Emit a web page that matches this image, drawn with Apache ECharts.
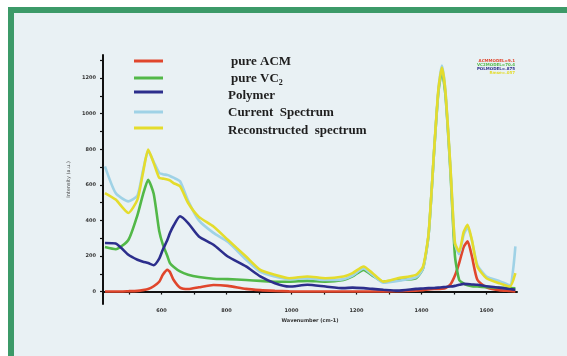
<!DOCTYPE html>
<html><head><meta charset="utf-8">
<script src="https://cdn.jsdelivr.net/npm/echarts@6/dist/echarts.min.js"></script>
<style>html,body{margin:0;padding:0;background:#fff}#c{width:567px;height:356px}</style>
</head><body><div id="c"></div>
<script>
const wavenumbers = [426,459,498,526,543,559,576,593,604,618,626,637,657,682,715,760,804,860,904,949,993,1049,1105,1160,1188,1222,1249,1283,1327,1383,1405,1422,1439,1452,1463,1474,1489,1503,1516,1530,1542,1555,1572,1600,1639,1672,1689];
const pureACM = [0,0,2,4,8,14,30,55,94,122,110,66,22,14,24,37,32,15,8,4,1,0,0,0,0,0,0,0,2,5,8,12,14,15,16,20,40,90,160,250,282,200,66,24,8,3,0];
const pureVC2 = [250,238,290,430,545,628,550,340,265,200,160,140,113,95,82,72,70,65,60,55,55,60,55,65,85,122,90,55,65,75,130,320,790,1120,1240,1100,680,200,66,45,35,30,28,25,22,20,18];
const polymer = [273,270,207,179,168,160,148,185,235,290,329,370,423,385,310,263,197,141,85,47,28,38,28,19,22,19,15,10,5,15,17,19,20,22,24,26,28,32,38,43,42,40,38,30,22,14,10];
const currentSpectrum = [704,554,507,540,680,790,730,667,660,655,650,640,620,510,400,330,280,180,110,85,70,75,65,70,90,130,95,50,60,80,130,320,790,1130,1270,1120,700,270,210,320,360,290,150,85,60,35,254];
const reconstructed = [554,517,442,517,667,798,723,639,635,630,625,610,592,498,420,366,291,197,122,94,75,85,75,85,104,141,104,56,75,94,141,329,798,1136,1259,1118,704,273,226,335,376,291,141,75,47,28,104];
const xTickLabels = [600,800,1000,1200,1400,1600];
const xTicks = [500,600,700,800,900,1000,1100,1200,1300,1400,1500,1600];
const yTickLabels = [0,200,400,600,800,1000,1200];
const yTicks = [0,100,200,300,400,500,600,700,800,900,1000,1100,1200,1300];
const seriesNames = ['pure ACM','pure VC2','Polymer','Current  Spectrum','Reconstructed  spectrum'];
const modelTexts = ['ACMMODEL=9.1','VC2MODEL=70.4','POLMODEL=.875','Rmse=.057'];

const colors = ['#e0462c','#52b848','#2c2e8c','#9fd2e6','#e4dc2c'];
const values = [pureACM, pureVC2, polymer, currentSpectrum, reconstructed];
const order = [1,0,2,3,4];
const chart = echarts.init(document.getElementById('c'), null, {renderer:'canvas'});
const series = order.map(i => ({
  name: seriesNames[i], type:'line', showSymbol:false, smooth:0.2,
  data: wavenumbers.map((w,k)=>[w, values[i][k]]),
  lineStyle:{color:colors[i], width:2.6}, itemStyle:{color:colors[i]}, z: 2+i
}));
const legendY = [61, 78, 92, 112, 128];
const textY = [62, 79, 96, 113, 131];
const graphics = [
  {type:'rect', shape:{x:11,y:10,width:570,height:360}, style:{fill:'#e9f1f4', stroke:'#3c9a68', lineWidth:6}, z:-10},
];
seriesNames.forEach((n,i)=>{
  graphics.push({type:'line', shape:{x1:134,y1:legendY[i],x2:163,y2:legendY[i]}, style:{stroke:colors[i], lineWidth:3}, z:10});
  graphics.push({type:'text', x: i<2 ? 231 : 228, y:textY[i], style:{
    text: i===1 ? 'pure VC{s|2}' : n,
    font:'bold 13px "Liberation Serif", serif', fill:'#1e1e1e', verticalAlign:'middle',
    rich:{s:{font:'bold 8px "Liberation Serif", serif', fill:'#1e1e1e', padding:[7,0,0,0]}}
  }, z:10});
});
const mColors = [colors[0], colors[1], colors[2], '#e4dc2c'];
modelTexts.forEach((t,i)=>{
  graphics.push({type:'text', x:515, y:61+i*4, style:{text:t, font:'bold 4px "DejaVu Sans", sans-serif', fill:mColors[i], align:'right', verticalAlign:'middle'}, z:10});
});
const plain = v => String(v);
chart.setOption({
  animation:false,
  backgroundColor:'#ffffff',
  graphic: graphics,
  grid:{left:103, right:50, top:55, bottom:52, containLabel:false},
  xAxis:{type:'value', min:420, max:1694,
    name:'Wavenumber (cm-1)', nameLocation:'middle', nameGap:13,
    nameTextStyle:{fontSize:5, fontWeight:'bold', color:'#333', fontFamily:'DejaVu Sans'},
    axisLine:{lineStyle:{color:'#111', width:2}},
    axisTick:{customValues:xTicks, length:3, lineStyle:{color:'#111', width:1.2}},
    axisLabel:{customValues:xTickLabels, formatter:plain, fontSize:5, fontWeight:'bold', color:'#333', margin:4, fontFamily:'DejaVu Sans'},
    splitLine:{show:false}},
  yAxis:{type:'value', min:-70, max:1330,
    name:'Intensity (a.u.)', nameLocation:'middle', nameGap:28, nameRotate:90,
    nameTextStyle:{fontSize:5, color:'#444', fontFamily:'DejaVu Sans'},
    axisLine:{show:true, lineStyle:{color:'#111', width:2}},
    axisTick:{show:true, customValues:yTicks, length:3, lineStyle:{color:'#111', width:1.2}},
    axisLabel:{customValues:yTickLabels, formatter:plain, fontSize:5, fontWeight:'bold', color:'#333', margin:7, fontFamily:'DejaVu Sans'},
    splitLine:{show:false}},
  series: series
});
</script></body></html>
